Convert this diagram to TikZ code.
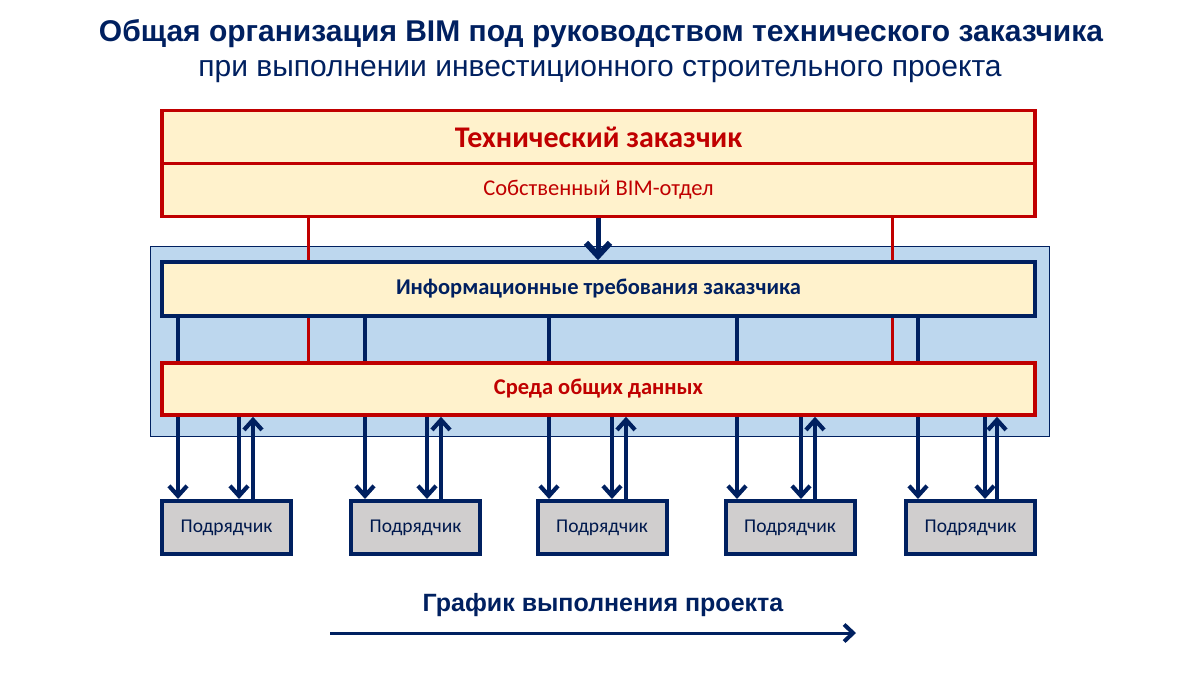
\documentclass[tikz,border=0pt]{standalone}
\usepackage{fontspec}
\setmainfont{Liberation Sans}
\newfontfamily\carlitofont{Carlito}
\usetikzlibrary{arrows.meta,calc}
\definecolor{navy}{HTML}{002060}
\definecolor{dred}{HTML}{C00000}
\definecolor{cream}{HTML}{FFF2CC}
\definecolor{lblue}{HTML}{BDD7EE}
\definecolor{lgray}{HTML}{D0CECE}
\tikzset{
  redbox/.style={draw=dred,line width=3.5pt,fill=cream,minimum width=873pt,inner sep=0pt},
  navybox/.style={draw=navy,line width=3.5pt,fill=cream,minimum width=873pt,inner sep=0pt},
  contr/.style={draw=navy,line width=4pt,fill=lgray,minimum width=129pt,minimum height=53pt,inner sep=0pt,
     font=\carlitofont\fontsize{19.5}{22}\selectfont,text=navy!80!black},
  redline/.style={draw=dred,line width=3pt},
  navyline/.style={draw=navy,line width=3.5pt},
  narrow/.style={navyline,-{Straight Barb[length=10pt,width=18pt,line width=4.2pt]}},
}
\begin{document}
\begin{tikzpicture}[x=1pt,y=-1pt]
\useasboundingbox (0,0) rectangle (1200,675);
% title
\node[text=navy,font=\bfseries\fontsize{30}{34}\selectfont] (t1) at (601,34) {Общая организация BIM под руководством технического заказчика};
\node[text=navy,font=\fontsize{30}{34}\selectfont] (t2) at (600,72) {при выполнении инвестиционного строительного проекта};
% blue background
\node[draw=navy,line width=1.5pt,fill=lblue,minimum width=899pt,minimum height=190pt,inner sep=0pt] (bg) at (600,341.5) {};
% top boxes
\node[redbox,minimum height=53pt,font=\carlitofont\bfseries\fontsize{30}{34}\selectfont,text=dred] (tz) at (598.5,137) {Технический заказчик};
\node[redbox,minimum height=53pt,font=\carlitofont\fontsize{22.5}{26}\selectfont,text=dred] (bim) at (598.5,190) {Собственный BIM-отдел};
% red lines behind
\draw[redline] (bim.south -| 308,0) -- (308,363);
\draw[redline] (bim.south -| 892,0) -- (892,363);
% x positions of the lines from ITZ
\coordinate (k1) at (178,0);
\coordinate (k2) at (365,0);
\coordinate (k3) at (549,0);
\coordinate (k4) at (737,0);
\coordinate (k5) at (918,0);
% contractor boxes
\node[contr] (c1) at (226.5,527.5) {Подрядчик};
\node[contr] (c2) at (415.5,527.5) {Подрядчик};
\node[contr] (c3) at (602,527.5) {Подрядчик};
\node[contr] (c4) at (790,527.5) {Подрядчик};
\node[contr] (c5) at (970.5,527.5) {Подрядчик};
% ITZ
\node[navybox,minimum height=54pt,font=\carlitofont\bfseries\fontsize{22.5}{26}\selectfont,text=navy] (itz) at (598.5,289) {Информационные требования заказчика};
\foreach \i in {1,...,5}{
  \draw[narrow] (itz.south -| k\i) -- (c\i.north -| k\i);
}
% SOD
\node[redbox,minimum height=52pt,font=\carlitofont\bfseries\fontsize{22.5}{26}\selectfont,text=dred] (sod) at (598.5,389) {Среда общих данных};
% main down arrow
\draw[draw=navy,line width=5pt,-{Straight Barb[length=13pt,width=24pt,line width=6pt]}] (bim.south -| 598,0) -- (itz.north -| 598,0);
% pair arrows
\foreach \i/\a/\b in {1/239/253,2/427/441,3/612/626,4/801/815,5/985/997}{
  \draw[narrow] (sod.south -| \a,0) -- (c\i.north -| \a,0);
  \draw[narrow] (c\i.north -| \b,0) -- (sod.south -| \b,0);
}
% bottom
\node[text=navy,font=\bfseries\fontsize{25}{29}\selectfont] (gr) at (603,605) {График выполнения проекта};
\coordinate (g1) at (330,633);
\coordinate (g2) at (856,633);
\draw[draw=navy,line width=3pt,-{Straight Barb[length=9pt,width=17pt,line width=4pt]}] (g1) -- (g2);
\end{tikzpicture}
\end{document}
